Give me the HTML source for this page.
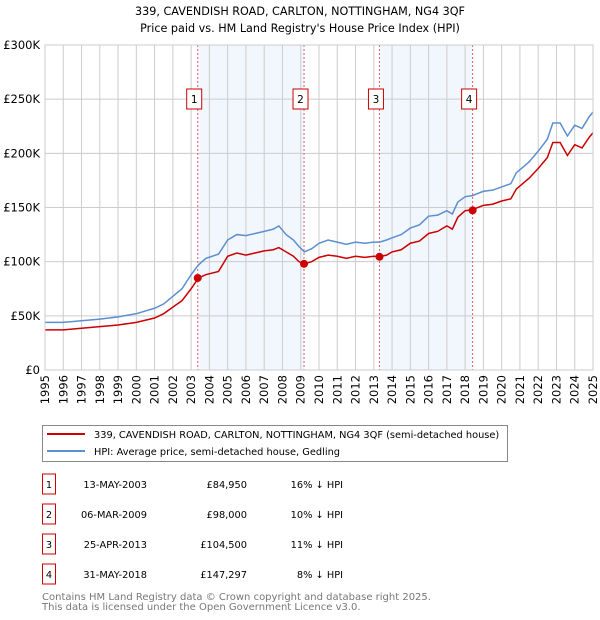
<!DOCTYPE html>
<html><head><meta charset="utf-8">
<style>
body{margin:0;background:#fff;}
svg{display:block;font-family:"DejaVu Sans","Liberation Sans",sans-serif;}
</style></head>
<body>
<svg id="chart" width="600" height="620" viewBox="0 0 600 620">
<text x="300" y="15" text-anchor="middle" font-size="11.2">339, CAVENDISH ROAD, CARLTON, NOTTINGHAM, NG4 3QF</text>
<text x="300" y="32" text-anchor="middle" font-size="11.2">Price paid vs. HM Land Registry's House Price Index (HPI)</text>
<g id="shade"></g><g id="grid"></g><g id="vlines"></g><g id="series"></g><g id="axes"></g>
<rect x="45" y="45" width="548" height="325" fill="none" stroke="#ccc"/>

<g>
<rect x="42.5" y="425.5" width="465" height="36" fill="#fff" stroke="#888"/>
<line x1="47" y1="434" x2="85" y2="434" stroke="#cc0000" stroke-width="2"/>
<text x="94" y="438" font-size="9.8">339, CAVENDISH ROAD, CARLTON, NOTTINGHAM, NG4 3QF (semi-detached house)</text>
<line x1="47" y1="451" x2="85" y2="451" stroke="#5b8fd0" stroke-width="2"/>
<text x="94" y="455" font-size="9.8">HPI: Average price, semi-detached house, Gedling</text>
</g>
<g id="table" font-size="9.8"></g>
<text x="42" y="600" font-size="10" fill="#777">Contains HM Land Registry data © Crown copyright and database right 2025.</text>
<text x="42" y="610" font-size="10" fill="#777">This data is licensed under the Open Government Licence v3.0.</text>
</svg>
<script>
const years=[1995,1996,1997,1998,1999,2000,2001,2001.5,2002,2002.5,2003,2003.4,2003.8,2004.5,2005,2005.5,2006,2006.5,2007,2007.5,2007.8,2008.2,2008.6,2008.9,2009.2,2009.6,2010,2010.5,2011,2011.5,2012,2012.5,2013,2013.3,2013.7,2014,2014.5,2015,2015.5,2016,2016.5,2017,2017.3,2017.6,2018,2018.4,2019,2019.5,2020,2020.5,2020.8,2021.5,2022,2022.5,2022.8,2023.2,2023.6,2024,2024.4,2024.8,2025];
const hpiValues=[44,44,45.5,47,49,52,57,61,68,75,88,97,103,107,120,125,124,126,128,130,133,125,120,114,109,112,117,120,118,116,118,117,118,118,120,122,125,131,134,142,143,147,144,155,160,161,165,166,169,172,182,192,202,213,228,228,216,226,223,234,238];
const priceValues=[37,37,38.5,40,41.5,44,48,52,58,64,75,85,88,91,105,108,106,108,110,111,113,109,105,100,98,100,104,106,105,103,105,104,105,104.5,106,109,111,117,119,126,128,133,130,141,147,148,152,153,156,158,167,177,186,196,210,210,198,208,205,215,219];
const saleLabels=["1","2","3","4"];
const saleYears=[2003.36,2009.18,2013.31,2018.41];
const salePrices=[84.95,98,104.5,147.297];
const saleDates=["13-MAY-2003","06-MAR-2009","25-APR-2013","31-MAY-2018"];
const salePriceText=["£84,950","£98,000","£104,500","£147,297"];
const saleHpiText=["16% ↓ HPI","10% ↓ HPI","11% ↓ HPI","8% ↓ HPI"];
const yTicks=[0,50,100,150,200,250,300];
const yTickLabels=["£0","£50K","£100K","£150K","£200K","£250K","£300K"];
const xTicks=[1995,1996,1997,1998,1999,2000,2001,2002,2003,2004,2005,2006,2007,2008,2009,2010,2011,2012,2013,2014,2015,2016,2017,2018,2019,2020,2021,2022,2023,2024,2025];

const NS="http://www.w3.org/2000/svg";
const X=t=>45+(t-1995)*(548/30);
const Y=v=>370-v*(325/300);
function mk(parent,tag,attrs){const e=document.createElementNS(NS,tag);for(const k in attrs)e.setAttribute(k,attrs[k]);document.getElementById(parent).appendChild(e);return e;}

for(let i=0;i<saleYears.length;i+=2){
  const r=mk('shade','rect',{x:X(saleYears[i]),y:45,width:X(saleYears[i+1])-X(saleYears[i]),height:325,fill:'#f2f6fd'});
  
  
}
yTicks.forEach((v,i)=>{
  const l=mk('grid','line',{x1:45,x2:593,y1:Y(v),y2:Y(v),stroke:'#ccc'});
  
  
  const t=mk('axes','text',{x:40,y:Y(v)+4,'text-anchor':'end','font-size':11.5});
  t.textContent=yTickLabels[i];
  
  
});
xTicks.forEach(yr=>{
  const l=mk('grid','line',{x1:X(yr),x2:X(yr),y1:45,y2:370,stroke:'#ccc'});
  
  
  const t=mk('axes','text',{x:0,y:0,'font-size':11.5,'text-anchor':'end',transform:`translate(${X(yr)+4},375) rotate(-90)`});
  t.textContent=yr;
  
  
});
saleYears.forEach((s,i)=>{
  const l=mk('vlines','line',{x1:X(s),x2:X(s),y1:45,y2:370,stroke:'#e06060','stroke-dasharray':'2,2'});
  
  
  const b=mk('vlines','rect',{x:X(s)-11,y:89,width:15,height:20,fill:'#fff',stroke:'#cc0000'});
  
  
  const t=mk('vlines','text',{x:X(s)-3.5,y:103,'text-anchor':'middle','font-size':10.5});
  t.textContent=saleLabels[i];
  
  
});
const hp=mk('series','polyline',{points:years.map((t,i)=>X(t)+','+Y(hpiValues[i])).join(' '),fill:'none',stroke:'#5b8fd0','stroke-width':1.5});


const pp=mk('series','polyline',{points:years.map((t,i)=>X(t)+','+Y(priceValues[i])).join(' '),fill:'none',stroke:'#cc0000','stroke-width':1.5});


saleYears.forEach((s,i)=>{
  const c=mk('series','circle',{cx:X(s),cy:Y(salePrices[i]),r:4,fill:'#cc0000'});
  
  
});
saleLabels.forEach((lab,i)=>{
  const cy=484+i*30;
  const b=mk('table','rect',{x:42.5,y:cy-10,width:13,height:20,fill:'#fff',stroke:'#cc0000'});
  
  
  const cells=[[49,'middle',lab,'table-row-number'],[147,'end',saleDates[i],'table-row-date'],[247,'end',salePriceText[i],'table-row-price'],[343,'end',saleHpiText[i],'table-row-hpi-diff']];
  cells.forEach(c=>{
    const t=mk('table','text',{x:c[0],y:cy+4,'text-anchor':c[1]});
    t.textContent=c[2];
    
    
  });
});
</script>
</body></html>
